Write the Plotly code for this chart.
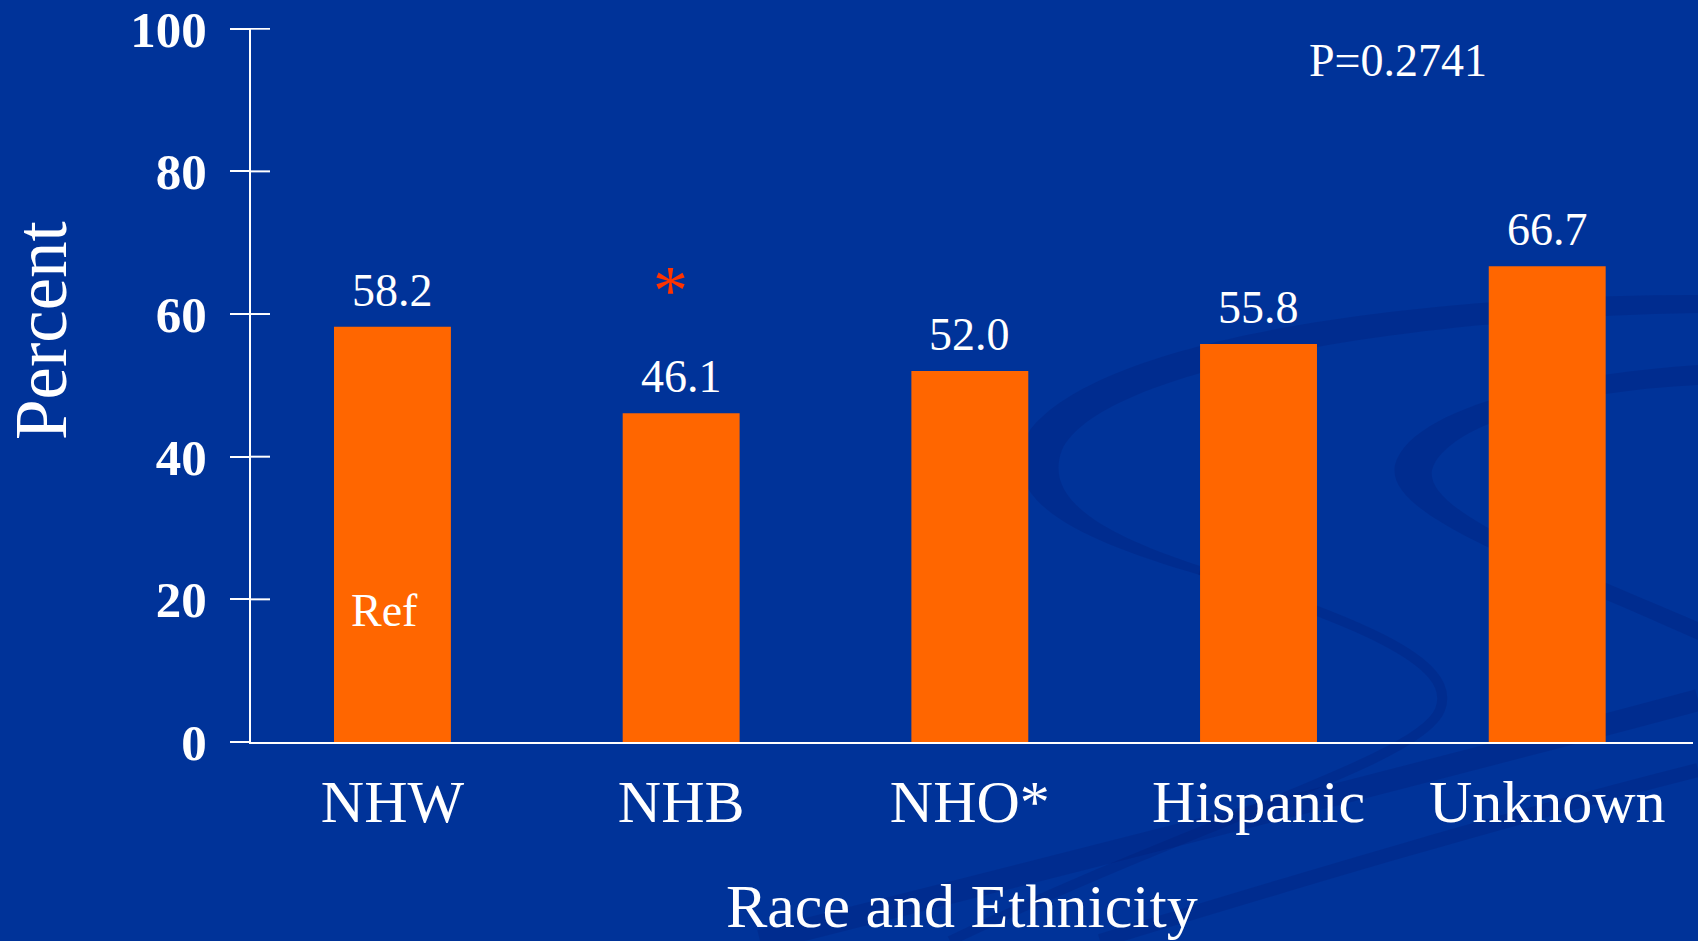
import plotly.graph_objects as go

# ---- data -------------------------------------------------------------
categories = ["NHW", "NHB", "NHO*", "Hispanic", "Unknown"]
percent = [58.2, 46.1, 52.0, 55.8, 66.7]
value_labels = ["58.2", "46.1", "52.0", "55.8", "66.7"]
y_ticks = [0, 20, 40, 60, 80, 100]
y_tick_labels = ["0", "20", "40", "60", "80", "100"]
p_value_text = "P=0.2741"
ref_category = "NHW"
ref_text = "Ref"
sig_category = "NHB"
sig_text = "*"
sig_y = 64.4
x_title = "Race and Ethnicity"
y_title = "Percent"

# ---- styling ----------------------------------------------------------
W, H = 1698, 941
L, R, T, B = 251, 5, 28, 199
PW, PH = W - L - R, H - T - B
BG = "#003399"
BAR = "#FF6600"
SWIRL = "rgba(0,25,110,0.22)"
SERIF = "Liberation Serif, Times New Roman, serif"
Y_MAX = 100.1
TICK_LEN = 19


def px(x, y):
    """pixel position -> paper coordinates"""
    return (x - L) / PW, (H - B - y) / PH


def path(cmds):
    out = []
    for c in cmds:
        if isinstance(c, str):
            out.append(c)
        else:
            x, y = px(*c)
            out.append(f"{x:.4f},{y:.4f}")
    return " ".join(out)


fig = go.Figure()

fig.add_trace(go.Bar(
    x=categories, y=percent, width=0.405,
    marker=dict(color=BAR, line=dict(width=0)),
    hoverinfo="skip", showlegend=False,
))

# faint background swirls (filled crescents + strokes)
shapes = []
crescents = [
    ["M", (1698, 295), "C", (1400, 295), (1100, 340), (1030, 430),
     "C", (990, 500), (1080, 540), (1200, 575),
     "L", (1200, 566), "C", (1090, 530), (1045, 495), (1062, 450),
     "C", (1100, 370), (1400, 318), (1698, 313), "Z"],
    ["M", (1698, 365), "C", (1550, 375), (1410, 410), (1395, 465),
     "C", (1385, 515), (1520, 560), (1698, 640),
     "L", (1698, 622), "C", (1540, 555), (1425, 510), (1432, 470),
     "C", (1445, 425), (1560, 392), (1698, 385), "Z"],
]
for cmds in crescents:
    shapes.append(dict(
        type="path", xref="paper", yref="paper", path=path(cmds),
        fillcolor=SWIRL, line=dict(width=0), layer="below",
    ))
strokes = [
    (["M", (1200, 570), "C", (1350, 620), (1460, 660), (1440, 710),
      "C", (1420, 760), (1200, 820), (950, 941)], 10),
    (["M", (760, 941), "C", (1000, 880), (1400, 780), (1698, 700)], 22),
    (["M", (1100, 941), "C", (1300, 880), (1500, 820), (1698, 770)], 14),
]
for cmds, w in strokes:
    shapes.append(dict(
        type="path", xref="paper", yref="paper", path=path(cmds),
        line=dict(color=SWIRL, width=w), layer="below",
    ))

# inner half of the y-axis tick marks (ticks cross the axis line)
for v in y_ticks[1:]:
    shapes.append(dict(
        type="line", xref="paper", yref="y",
        x0=0, x1=TICK_LEN / PW, y0=v, y1=v,
        line=dict(color="white", width=2),
    ))

annotations = []
for cat, val, lab in zip(categories, percent, value_labels):
    annotations.append(dict(
        x=cat, y=val, text=lab, showarrow=False, yanchor="middle",
        yshift=36.5, font=dict(family=SERIF, size=46, color="white"),
    ))

annotations.append(dict(
    x=ref_category, y=18.4, text=ref_text, showarrow=False,
    xshift=-8, yanchor="middle",
    font=dict(family=SERIF, size=46, color="white"),
))
annotations.append(dict(
    x=sig_category, y=sig_y, text=sig_text, showarrow=False,
    xshift=-11, yshift=-8, yanchor="middle",
    font=dict(family=SERIF, size=70, color="#FF3300"),
))

pxv, pyv = px(1398, 61)
annotations.append(dict(
    xref="paper", yref="paper", x=pxv, y=pyv, text=p_value_text,
    showarrow=False, xanchor="center", yanchor="middle",
    font=dict(family=SERIF, size=46, color="white"),
))
tx, ty = px(962, 906)
annotations.append(dict(
    xref="paper", yref="paper", x=tx, y=ty, text=x_title,
    showarrow=False, xanchor="center", yanchor="middle",
    font=dict(family=SERIF, size=62, color="white"),
))
yx, yy = px(41, 331)
annotations.append(dict(
    xref="paper", yref="paper", x=yx, y=yy, text=y_title, textangle=-90,
    showarrow=False, xanchor="center", yanchor="middle",
    font=dict(family=SERIF, size=73, color="white"),
))

fig.update_layout(
    width=W, height=H,
    margin=dict(l=L, r=R, t=T, b=B, pad=0, autoexpand=False),
    paper_bgcolor=BG, plot_bgcolor="rgba(0,0,0,0)",
    shapes=shapes,
    annotations=annotations,
    xaxis=dict(
        type="category", range=[-0.49, 4.505], automargin=False,
        showline=True, linecolor="white", linewidth=2,
        showgrid=False, zeroline=False, ticks="",
        tickfont=dict(family=SERIF, size=60, color="white"),
        ticklabelstandoff=6,
    ),
    yaxis=dict(
        range=[0, Y_MAX], tickvals=y_ticks, ticktext=y_tick_labels,
        automargin=False,
        showline=True, linecolor="white", linewidth=2,
        showgrid=False, zeroline=False,
        ticks="outside", ticklen=TICK_LEN, tickwidth=2, tickcolor="white",
        tickfont=dict(family=SERIF, size=51, color="white", weight="bold"),
        ticklabelstandoff=13, ticklabeloverflow="allow",
    ),
)

fig.write_html("out.html")
